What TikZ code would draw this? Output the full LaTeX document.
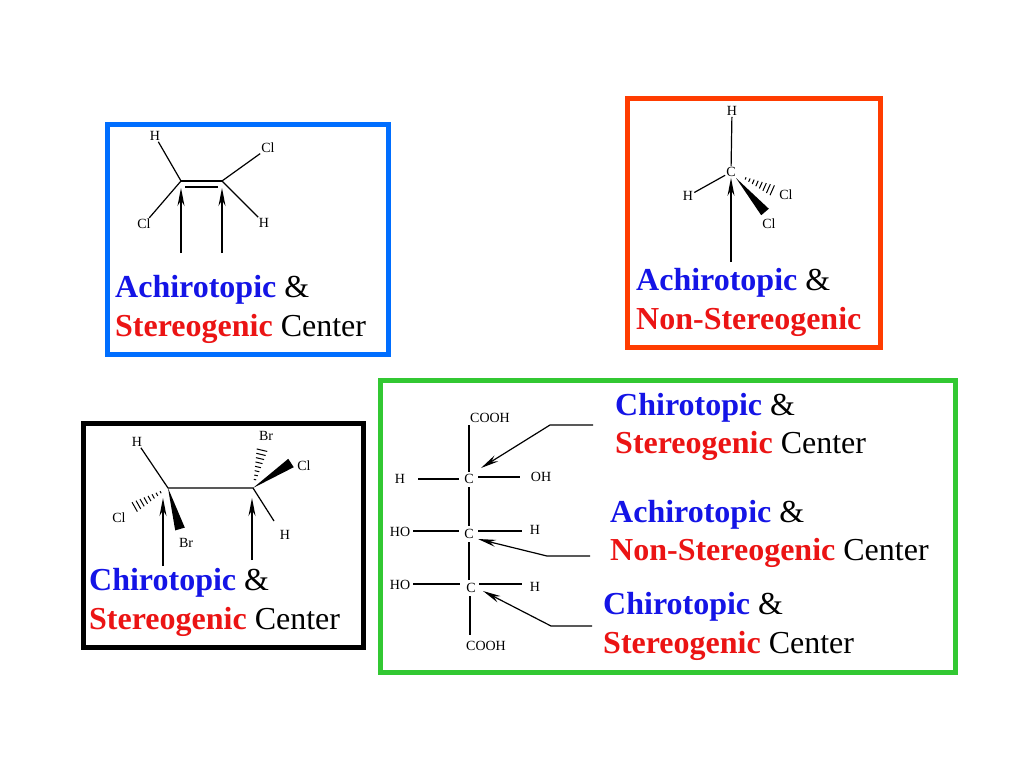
\documentclass[tikz,border=0pt]{standalone}
\usepackage{fontspec}
\setmainfont{Liberation Serif}
\usetikzlibrary{arrows.meta,calc}
\definecolor{bblue}{RGB}{0,110,255}
\definecolor{bred}{RGB}{255,60,0}
\definecolor{bgreen}{RGB}{50,200,50}
\definecolor{tblue}{RGB}{20,20,230}
\definecolor{tred}{RGB}{235,20,20}
\tikzset{
 frame/.style={line width=5pt},
 atom/.style={font=\fontsize{14}{14}\selectfont,inner sep=1pt},
 big/.style={font=\fontsize{32}{32}\selectfont,anchor=base west,inner sep=0pt},
 bond/.style={line width=1.2pt},
 ptr/.style={line width=1.2pt,-{Stealth[length=18pt,width=7pt]}},
}
\newcommand{\Ach}{{\bfseries\color{tblue}Achirotopic} \&}
\newcommand{\Chi}{{\bfseries\color{tblue}Chirotopic} \&}
\newcommand{\Ste}{{\bfseries\color{tred}Stereogenic} Center}
\newcommand{\NSt}{{\bfseries\color{tred}Non-Stereogenic}}
% hashed wedge: from point #1 to point #2, half width #3 (pt)
\newcommand{\hashw}[3]{%
 \foreach \t in {0.2,0.3,...,1.0}{
  \path let \p1=(#1),\p2=(#2),\n1={atan2(\y2-\y1,\x2-\x1)} in
   coordinate (hA) at ($(\p1)!\t!(\p2)$)
   [draw,line width=1pt] ($(hA)+({\n1+90}:{#3*\t*1pt})$) -- ($(hA)+({\n1-90}:{#3*\t*1pt})$);
 }}
\newcommand{\solw}[3]{%
 \fill let \p1=(#1),\p2=(#2),\n1={atan2(\y2-\y1,\x2-\x1)} in
  (\p1) -- ($(\p2)+({\n1+90}:#3pt)$) -- ($(\p2)+({\n1-90}:#3pt)$) -- cycle;}
\begin{document}
\begin{tikzpicture}[x=1pt,y=-1pt]
\useasboundingbox (0,0) rectangle (1024,768);
% ---------- blue box
\draw[frame,bblue] (107,124) rectangle (388,354);
\node[atom] (eH1) at (155,136) {H};
\node[atom] (eCl1) at (268,148) {Cl};
\node[atom] (eCl2) at (144,224) {Cl};
\node[atom] (eH2) at (264,223) {H};
\coordinate (eC1) at (181,181);
\coordinate (eC2) at (222,181);
\draw[bond] (eH1) -- (eC1) -- (eCl2);
\draw[bond] (eCl1) -- (eC2) -- (eH2);
\draw[bond] (eC1) -- (eC2);
\draw[bond] ($(eC1)+(4,6)$) -- ($(eC2)+(-4,6)$);
\coordinate (ea1) at (181,253); \coordinate (ea2) at (222,253);
\draw[ptr] (ea1) -- ($(eC1)+(0,7)$);
\draw[ptr] (ea2) -- ($(eC2)+(0,7)$);
\node[big] (bl1) at (115,297) {\Ach};
\node[big] (bl2) at (115,336) {\Ste};
% ---------- red box
\draw[frame,bred] (627,98) rectangle (880,347);
\node[atom] (mH1) at (732,111) {H};
\node[atom] (mC) at (731,172) {C};
\node[atom] (mH2) at (688,196) {H};
\node[atom] (mCl1) at (786,195) {Cl};
\node[atom] (mCl2) at (769,224) {Cl};
\draw[bond] (mH1) -- (mC) -- (mH2);
\coordinate (mc0) at (738,175); \coordinate (mh) at (776,192);
\hashw{mc0}{mh}{6}
\coordinate (mw0) at (736,178); \coordinate (mw) at (765,212);
\solw{mw0}{mw}{5}
\coordinate (ma) at (731,262);
\draw[ptr] (ma) -- (mC);
\node[big] (rl1) at (636,290) {\Ach};
\node[big] (rl2) at (636,329) {\NSt};
% ---------- black box
\draw[frame,black] (83,423) rectangle (363,647);
\coordinate (bC1) at (168,488); \coordinate (bC2) at (253,488);
\node[atom] (bH1) at (137,442) {H};
\node[atom] (bCl1) at (119,518) {Cl};
\node[atom] (bBr1) at (186,543) {Br};
\node[atom] (bBr2) at (266,436) {Br};
\node[atom] (bCl2) at (304,466) {Cl};
\node[atom] (bH2) at (285,535) {H};
\draw[bond] (bH1) -- (bC1) -- (bC2) -- (274,521);
\coordinate (bh1) at (131,509); \hashw{bC1}{bh1}{6}
\coordinate (bw1) at (180,529); \solw{bC1}{bw1}{5}
\coordinate (bh2) at (263,446); \hashw{bC2}{bh2}{6}
\coordinate (bw2) at (291,463); \solw{bC2}{bw2}{5}
\coordinate (ba1) at (163,566); \coordinate (ba2) at (252,560);
\draw[ptr] (ba1) -- ($(bC1)+(-5,10)$);
\draw[ptr] (ba2) -- ($(bC2)+(-1,10)$);
\node[big] (kl1) at (89,590) {\Chi};
\node[big] (kl2) at (89,629) {\Ste};
% ---------- green box
\draw[frame,bgreen] (380,380) rectangle (955,672);
\node[atom] (gT) at (490,418) {COOH};
\node[atom] (gC1) at (469,479) {C};
\node[atom] (gC2) at (469,534) {C};
\node[atom] (gC3) at (471,588) {C};
\node[atom] (gB) at (486,646) {COOH};
\node[atom] (gH1) at (400,479) {H};
\node[atom] (gOH1) at (541,477) {OH};
\node[atom] (gHO2) at (400,532) {HO};
\node[atom] (gH2) at (535,530) {H};
\node[atom] (gHO3) at (400,585) {HO};
\node[atom] (gH3) at (535,587) {H};
\draw[bond] (469,425) -- (469,472) (469,487) -- (469,526) (469,542) -- (469,580) (470,596) -- (470,635);
\draw[bond] (418,479) -- (459,479) (478,477) -- (520,477);
\draw[bond] (413,531) -- (459,531) (478,531) -- (522,531);
\draw[bond] (413,584) -- (460,584) (479,584) -- (522,584);
\coordinate (gp1) at (593,425); \coordinate (gq1) at (550,425);
\coordinate (gp2) at (590,556); \coordinate (gq2) at (547,556);
\coordinate (gp3) at (592,626); \coordinate (gq3) at (551,626);
\draw[ptr] (gp1) -- (gq1) -- ($(gC1)+(12,-11)$);
\draw[ptr] (gp2) -- (gq2) -- ($(gC2)+(9,5)$);
\draw[ptr] (gp3) -- (gq3) -- ($(gC3)+(12,3)$);
\node[big] (gl1) at (615,415) {\Chi};
\node[big] (gl2) at (615,453) {\Ste};
\node[big] (gl3) at (610,522) {\Ach};
\node[big] (gl4) at (610,560) {\NSt{} Center};
\node[big] (gl5) at (603,614) {\Chi};
\node[big] (gl6) at (603,653) {\Ste};
\end{tikzpicture}
\end{document}
